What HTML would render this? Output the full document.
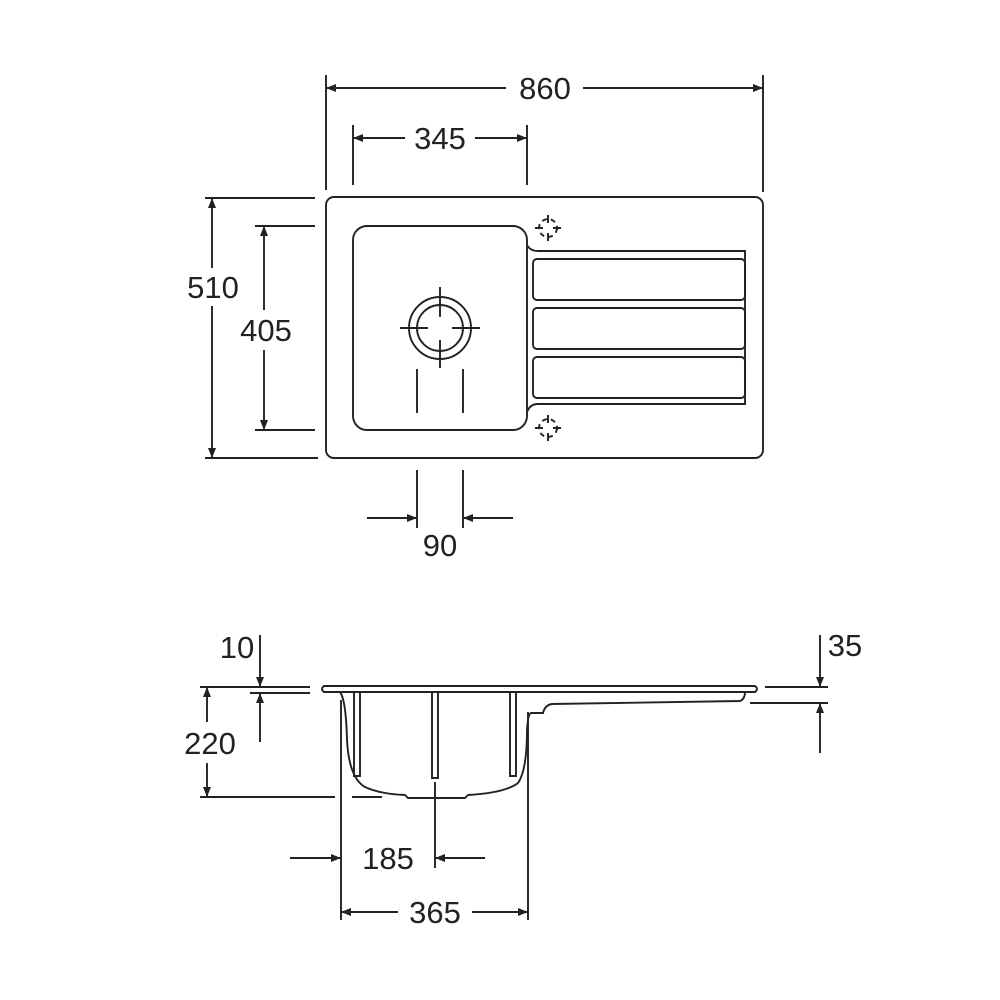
<!DOCTYPE html>
<html><head><style>html,body{margin:0;padding:0;background:#fff}svg{display:block}text{font-family:"Liberation Sans",sans-serif;font-size:31px;fill:#222;text-anchor:middle}</style></head>
<body>
<svg width="1000" height="1000" viewBox="0 0 1000 1000" xmlns="http://www.w3.org/2000/svg">
<defs><marker id="a" viewBox="0 0 10 10" refX="10" refY="5" markerWidth="16" markerHeight="10" markerUnits="userSpaceOnUse" orient="auto"><path d="M0,1 L10,5 L0,9 Z" fill="#222"/></marker></defs>
<g stroke="#222" stroke-width="1.9" fill="none">
<rect x="326" y="197" width="437" height="261" rx="8"/>
<rect x="353" y="226" width="174" height="204" rx="14"/>
<path d="M527,245 Q530,251 538,251 L745,251 L745,404 L538,404 Q530,404 527,412"/>
<rect x="533" y="259" width="212" height="41" rx="4"/>
<rect x="533" y="308" width="212" height="41" rx="4"/>
<rect x="533" y="357" width="212" height="41" rx="4"/>
<circle cx="440" cy="328" r="31"/><circle cx="440" cy="328" r="23"/>
<path d="M440,287v30M440,340v28M400,328h28M452,328h28M417,369v44M463,369v44"/>
<circle cx="548" cy="228" r="9" stroke-dasharray="5 4"/><path d="M548,215v8M548,233v8M535,228h8M553,228h8"/>
<circle cx="548" cy="428" r="9" stroke-dasharray="5 4"/><path d="M548,415v8M548,433v8M535,428h8M553,428h8"/>
<path d="M326,75v115M763,75v117M353,125v60M527,125v60M205,198h110M205,458h113M255,226h60M255,430h60M417,470v58M463,470v58"/>
<path d="M506,88H326" marker-end="url(#a)"/><path d="M583,88H763" marker-end="url(#a)"/>
<path d="M405,138H353" marker-end="url(#a)"/><path d="M475,138H527" marker-end="url(#a)"/>
<path d="M212,268V198" marker-end="url(#a)"/><path d="M212,306V458" marker-end="url(#a)"/>
<path d="M264,310V226" marker-end="url(#a)"/><path d="M264,350V430" marker-end="url(#a)"/>
<path d="M367,518H417" marker-end="url(#a)"/><path d="M513,518H463" marker-end="url(#a)"/>
<path d="M324,686 H755 Q759,689 755,692 H324 Q320,689 324,686Z"/>
<path d="M340,692 Q346,700 347,740 Q349,778 365,787 Q380,794 405,795 L408,798 H465 L468,795 Q505,793 518,783 Q527,770 527,730 Q528,714 531,713 H543 Q545,705 552,704 L740,701 Q745,699 745,692"/>
<path d="M354,692V776h6V692M432,692V778h6V692M510,692V776h6V692"/>
<path d="M341,700V920M528,712V920M435,782V868"/>
<path d="M200,687h110M250,693h60M200,797h135M352,797h30M765,687h63M750,703h78"/>
<path d="M260,635V687" marker-end="url(#a)"/><path d="M260,742V693" marker-end="url(#a)"/>
<path d="M207,722V687" marker-end="url(#a)"/><path d="M207,763V797" marker-end="url(#a)"/>
<path d="M820,635V687" marker-end="url(#a)"/><path d="M820,753V703" marker-end="url(#a)"/>
<path d="M290,858H341" marker-end="url(#a)"/><path d="M485,858H435" marker-end="url(#a)"/>
<path d="M398,912H341" marker-end="url(#a)"/><path d="M472,912H528" marker-end="url(#a)"/>
</g>
<text x="545" y="99">860</text>
<text x="440" y="149">345</text>
<text x="213" y="298">510</text>
<text x="266" y="341">405</text>
<text x="440" y="556">90</text>
<text x="237" y="658">10</text>
<text x="845" y="656">35</text>
<text x="210" y="754">220</text>
<text x="388" y="869">185</text>
<text x="435" y="923">365</text>
</svg>
</body></html>
